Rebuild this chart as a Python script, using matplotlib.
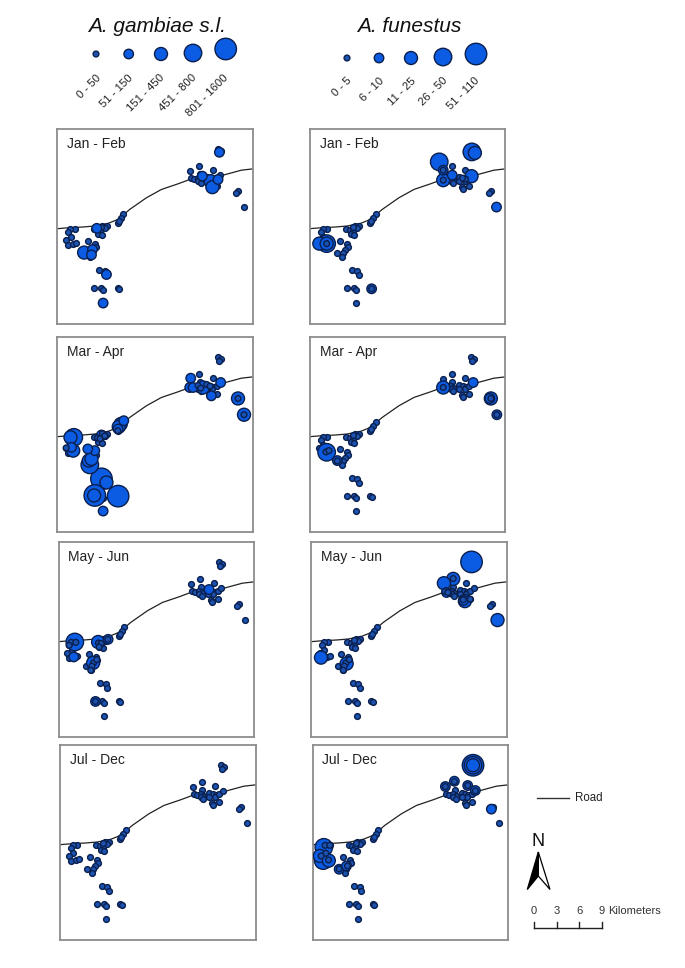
import matplotlib
matplotlib.use('Agg')
import matplotlib.pyplot as plt
from matplotlib.patches import Polygon

plt.rcParams['font.family'] = ['Liberation Sans', 'DejaVu Sans']

W, H = 685, 968

# map units, y runs downwards from the top of a panel frame (frame is 587 x 587)
road_x = [0, 37, 77, 112, 152, 182, 217, 267, 312, 362, 397, 447, 497, 552, 587]
road_y = [300, 297, 295, 292, 284, 272, 242, 207, 182, 165, 152, 147, 139, 124, 120]

site_x = [482, 492, 485, 399, 426, 466, 402, 411, 427, 422, 430, 422, 430, 448, 458, 467, 464, 448,
          478, 489, 478, 457, 460, 542, 537, 560,
          198, 190, 181, 184,
          109, 120, 128, 135, 148, 142, 122, 133, 130,
          52, 38, 32, 40, 26, 32, 48, 57, 91, 112, 115, 105, 100, 97, 82,
          126, 142, 147, 111, 131, 137, 181, 186, 137]
site_y = [61, 65, 71, 125, 110, 122, 149, 152, 136, 146, 154, 158, 164, 143, 148, 151, 158, 156,
          146, 138, 172, 174, 182, 186, 194, 235,
          256, 269, 282, 276,
          301, 304, 306, 291, 293, 298, 316, 320, 296,
          302, 302, 311, 326, 334, 348, 346, 342, 338, 346, 354, 364, 374, 386, 373,
          423, 428, 438, 480, 479, 484, 480, 483, 524]

# larger catches per period: (x, y, size class), class 0 entries are the small rings on top
gam_jan = [(486, 70, 1), (118, 299, 1), (80, 372, 2), (105, 363, 1), (102, 379, 1), (147, 438, 1),
           (137, 524, 1), (460, 157, 2), (465, 175, 2), (435, 142, 1), (482, 152, 1)]
gam_mar = [(49, 302, 3), (39, 302, 2), (47, 342, 2), (42, 332, 1), (94, 372, 2), (97, 385, 3),
           (102, 367, 2), (112, 342, 1), (91, 337, 1), (132, 427, 4), (147, 438, 2), (112, 477, 4),
           (110, 477, 2), (182, 479, 4), (137, 524, 1), (190, 262, 2), (199, 252, 1), (182, 277, 1),
           (184, 270, 2), (132, 295, 1), (400, 124, 1), (397, 152, 1), (437, 152, 2), (490, 137, 1),
           (462, 177, 1), (542, 185, 2), (560, 234, 2), (407, 152, 1),
           (542, 185, 0), (560, 234, 0), (120, 304, 0), (128, 306, 0), (135, 291, 0), (142, 298, 0),
           (422, 146, 0), (430, 154, 0), (448, 143, 0), (458, 148, 0), (26, 334, 0), (181, 282, 0)]
gam_may = [(49, 301, 3), (119, 301, 2), (149, 293, 1), (104, 364, 2), (111, 480, 1), (452, 143, 1),
           (46, 346, 1),
           (38, 302, 0), (52, 302, 0), (32, 311, 0), (120, 304, 0), (128, 306, 0), (122, 316, 0),
           (148, 293, 0), (105, 364, 0), (100, 374, 0), (97, 386, 0), (115, 354, 0), (111, 480, 0)]
gam_jul = []
fun_jan = [(388, 99, 3), (400, 124, 1), (400, 154, 2), (486, 69, 3), (495, 72, 2), (485, 142, 2),
           (427, 139, 1), (50, 345, 3), (28, 345, 2), (50, 345, 2), (185, 481, 1), (560, 235, 1),
           (400, 124, 0), (400, 154, 0), (50, 345, 0), (185, 481, 0), (467, 151, 0), (458, 148, 0)]
fun_mar = [(50, 347, 3), (82, 372, 1), (400, 152, 2), (490, 137, 1), (543, 185, 2), (540, 185, 1),
           (561, 234, 1),
           (400, 152, 0), (543, 185, 0), (561, 234, 0), (48, 346, 0), (57, 342, 0), (82, 373, 0)]
fun_may = [(482, 60, 4), (427, 111, 2), (399, 124, 2), (560, 235, 2), (30, 348, 2), (462, 178, 2),
           (458, 176, 1), (107, 366, 2), (407, 152, 1),
           (427, 110, 0), (457, 174, 0), (105, 364, 0), (100, 374, 0), (115, 354, 0), (97, 386, 0),
           (402, 149, 0), (411, 152, 0), (478, 172, 0)]
fun_jul = [(482, 61, 4), (482, 61, 3), (482, 61, 2), (426, 109, 1), (399, 125, 1), (466, 122, 1),
           (489, 137, 1), (537, 193, 1), (34, 308, 3), (32, 348, 3), (22, 334, 2), (49, 348, 2),
           (80, 374, 1), (102, 364, 1),
           (426, 110, 0), (399, 125, 0), (466, 122, 0), (489, 138, 0), (38, 302, 0), (52, 302, 0),
           (40, 326, 0), (48, 346, 0), (26, 334, 0), (80, 373, 0), (105, 364, 0)]

periods = ['Jan - Feb', 'Mar - Apr', 'May - Jun', 'Jul - Dec']
gam_extra = [gam_jan, gam_mar, gam_may, gam_jul]
fun_extra = [fun_jan, fun_mar, fun_may, fun_jul]

gam_bins = ['0 - 50', '51 - 150', '151 - 450', '451 - 800', '801 - 1600']
fun_bins = ['0 - 5', '6 - 10', '11 - 25', '26 - 50', '51 - 110']
scale_km = [0, 3, 6, 9]

# marker diameters in px for the five classes
diam = [5.8, 9.5, 13, 17.5, 21.5]
BLUE = '#0b5ce2'
SMALL = '#1c52b0'
EDGE = '#0a1f4d'
FRAME = '#8c8c8c'
LW = 1.0


def px_s(d):
    return (d * 72 / 100) ** 2


def panel(left, top, w, h, label, label_x, extra):
    ax = fig.add_axes([left / W, 1 - (top + h) / H, w / W, h / H])
    ax.set_xlim(0, 587)
    ax.set_ylim(587, 0)
    ax.set_xticks([])
    ax.set_yticks([])
    for s in ax.spines.values():
        s.set_color(FRAME)
        s.set_linewidth(1.3)
    ax.plot(road_x, road_y, color='#222222', lw=0.9, zorder=1)
    # every site first, then the period's bigger catches on top, small rings last
    ax.scatter(site_x, site_y, s=px_s(diam[0]), c=SMALL, edgecolors=EDGE, linewidths=LW, zorder=2)
    pts = sorted(extra, key=lambda p: -p[2])
    xs = [p[0] for p in pts]
    ys = [p[1] for p in pts]
    sizes = [px_s(diam[p[2]]) for p in pts]
    cols = [SMALL if p[2] == 0 else BLUE for p in pts]
    if pts:
        ax.scatter(xs, ys, s=sizes, c=cols, edgecolors=EDGE, linewidths=LW, zorder=3)
    ax.text(label_x, 44, label, fontsize=10, color='#222222', va='center', ha='left', zorder=4)
    return ax


fig = plt.figure(figsize=(W / 100, H / 100), dpi=100, facecolor='white')

gam_frames = [(57.5, 129), (57.5, 337), (58.5, 542), (60, 745)]
fun_frames = [(310, 129), (310, 337), (311, 542), (312.5, 745)]
for i in range(4):
    panel(gam_frames[i][0], gam_frames[i][1], 195.5, 195, periods[i], 29, gam_extra[i])
    panel(fun_frames[i][0], fun_frames[i][1], 195.5, 195, periods[i], 29, fun_extra[i])

# overlay in pixel coordinates for legend, north arrow and scale bar
ov = fig.add_axes([0, 0, 1, 1], zorder=5)
ov.set_xlim(0, W)
ov.set_ylim(H, 0)
ov.axis('off')

ov.text(156.5, 26, 'A. gambiae s.l.', fontsize=15, style='italic', ha='center', va='center', color='#111111')
ov.text(409, 27, 'A. funestus', fontsize=15, style='italic', ha='center', va='center', color='#111111')

gam_lx = [96, 128.7, 161, 193, 225.7]
gam_ly = [54, 54, 54, 53, 49]
fun_lx = [347, 379, 411, 443, 476]
fun_ly = [58, 58, 58, 57, 54]
leg_cols = [SMALL, BLUE, BLUE, BLUE, BLUE]
ov.scatter(gam_lx, gam_ly, s=[px_s(d) for d in diam], c=leg_cols, edgecolors=EDGE, linewidths=LW)
ov.scatter(fun_lx, fun_ly, s=[px_s(d) for d in diam], c=leg_cols, edgecolors=EDGE, linewidths=LW)
for x, lab in zip([99, 131, 163, 195, 227], gam_bins):
    ov.text(x, 76, lab, fontsize=8.2, rotation=45, rotation_mode='anchor', ha='right', va='center', color='#222222')
for x, lab in zip([350, 382, 414, 446, 478], fun_bins):
    ov.text(x, 79, lab, fontsize=8.2, rotation=45, rotation_mode='anchor', ha='right', va='center', color='#222222')

# road key
ov.plot([537, 569], [798, 798], color='#333333', lw=1.0)
ov.text(575, 798, 'Road', fontsize=8.3, va='center', ha='left', color='#222222')

# north arrow
ov.text(538.5, 841, 'N', fontsize=13, ha='center', va='center', color='#111111')
ov.add_patch(Polygon([(538.3, 852), (550, 889.5), (538.3, 876)], closed=True, fc='white', ec='black', lw=0.9))
ov.add_patch(Polygon([(538.3, 852), (527.3, 889.5), (538.3, 876)], closed=True, fc='black', ec='black', lw=0.9))

# scale bar
bar_x = [534, 556.7, 579.3, 602]
ov.plot([bar_x[0], bar_x[-1]], [928, 928], color='#222222', lw=1.0)
for x, km in zip(bar_x, scale_km):
    ov.plot([x, x], [921.5, 928], color='#222222', lw=1.0)
    ov.text(x, 911.5, str(km), fontsize=8, ha='center', va='center', color='#333333')
ov.text(608, 911.5, 'Kilometers', fontsize=8, ha='left', va='center', color='#333333')

fig.savefig('out.png', dpi=100)
